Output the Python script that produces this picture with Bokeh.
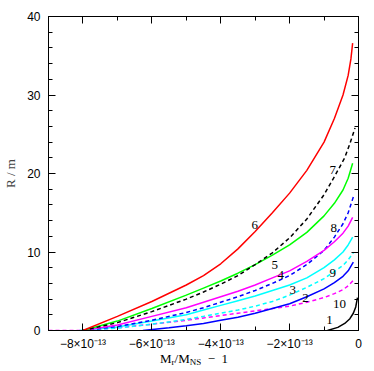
from bokeh.plotting import figure
from bokeh.models import Range1d, LinearAxis, Label, FixedTicker, Div
from bokeh.layouts import column
from bokeh.embed import file_html
from bokeh.resources import INLINE

# x values are in units of 1e-13 (M_r/M_NS - 1)
x_major = [-8, -6, -4, -2, 0]
x_minor = [-9, -7, -5, -3, -1]
x_tick_labels = ["−8×10⁻¹³", "−6×10⁻¹³", "−4×10⁻¹³", "−2×10⁻¹³", "0"]
y_major = [0, 10, 20, 30, 40]
y_minor = [2, 4, 6, 8, 12, 14, 16, 18, 22, 24, 26, 28, 32, 34, 36, 38]

# curve 6, red solid
red_x = [-8.0, -7.0, -6.0, -5.0, -4.5, -4.0, -3.5, -3.0, -2.5, -2.0, -1.5, -1.0, -0.7, -0.45, -0.3, -0.22, -0.17]
red_y = [0.0, 1.8, 3.7, 5.8, 7.0, 8.5, 10.4, 12.6, 15.0, 17.5, 20.4, 24.0, 27.0, 30.0, 32.5, 34.6, 36.6]
# curve 7, black dashed
kd_x = [-8.0, -7.0, -6.0, -5.0, -4.5, -4.0, -3.5, -3.0, -2.5, -2.0, -1.5, -1.0, -0.7, -0.4, -0.25, -0.1]
kd_y = [0.0, 1.0, 2.4, 4.0, 4.9, 5.9, 7.0, 8.4, 9.9, 11.8, 14.2, 17.3, 19.6, 22.0, 23.8, 25.8]
# curve 5, green solid
gr_x = [-8.0, -7.0, -6.0, -5.0, -4.5, -4.0, -3.5, -3.0, -2.5, -2.0, -1.5, -1.0, -0.7, -0.45, -0.3, -0.17]
gr_y = [0.0, 1.2, 2.8, 4.5, 5.4, 6.3, 7.3, 8.4, 9.6, 10.9, 12.5, 14.6, 16.2, 17.9, 19.4, 21.3]
# curve 8, blue dashed
bd_x = [-8.0, -7.0, -6.0, -5.0, -4.5, -4.0, -3.5, -3.0, -2.5, -2.0, -1.5, -1.0, -0.7, -0.45, -0.3, -0.15]
bd_y = [0.0, 0.5, 1.3, 2.3, 2.9, 3.6, 4.3, 5.1, 6.0, 7.0, 8.4, 10.2, 11.9, 13.6, 15.0, 17.0]
# curve 4, magenta solid
mg_x = [-8.0, -7.0, -6.0, -5.0, -4.5, -4.0, -3.5, -3.0, -2.5, -2.0, -1.5, -1.0, -0.7, -0.45, -0.3, -0.17]
mg_y = [0.0, 0.7, 1.8, 2.9, 3.6, 4.3, 5.0, 5.8, 6.7, 7.6, 8.8, 10.2, 11.3, 12.4, 13.3, 14.4]
# curve 3, cyan solid
cy_x = [-8.1, -7.0, -6.0, -5.0, -4.5, -4.0, -3.5, -3.0, -2.5, -2.0, -1.5, -1.0, -0.7, -0.45, -0.3, -0.17]
cy_y = [0.0, 0.45, 1.2, 2.0, 2.6, 3.2, 3.8, 4.4, 5.1, 5.8, 6.7, 8.0, 9.0, 10.0, 10.9, 11.9]
# curve 9, cyan dashed
cd_x = [-8.0, -7.0, -6.0, -5.0, -4.5, -4.0, -3.5, -3.0, -2.5, -2.0, -1.5, -1.0, -0.7, -0.45, -0.3, -0.15]
cd_y = [0.0, 0.3, 0.8, 1.4, 1.8, 2.2, 2.6, 3.1, 3.7, 4.5, 5.5, 6.6, 7.5, 8.3, 9.0, 9.9]
# curve 2, blue solid
bl_x = [-6.26, -5.5, -5.0, -4.5, -4.0, -3.5, -3.0, -2.5, -2.0, -1.5, -1.0, -0.7, -0.45, -0.3, -0.15]
bl_y = [0.0, 0.35, 0.6, 0.9, 1.3, 1.7, 2.2, 2.8, 3.4, 4.3, 5.3, 6.1, 6.9, 7.6, 8.7]
# curve 10, magenta dashed
md_x = [-9.0, -8.1, -7.0, -6.0, -5.0, -4.5, -4.0, -3.5, -3.0, -2.5, -2.0, -1.5, -1.0, -0.7, -0.45, -0.3, -0.15]
md_y = [0.0, 0.0, 0.35, 0.8, 1.3, 1.6, 1.9, 2.2, 2.5, 2.8, 3.1, 3.6, 4.2, 4.7, 5.2, 5.7, 6.4]
# curve 1, black solid
ks_x = [-0.9, -0.6, -0.4, -0.25, -0.15, -0.08, -0.03]
ks_y = [0.0, 0.4, 0.9, 1.5, 2.2, 3.0, 4.2]

label_text = ["6", "7", "8", "5", "4", "3", "2", "9", "10", "1"]
label_x = [-3.01, -0.75, -0.72, -2.43, -2.26, -1.91, -1.54, -0.75, -0.55, -0.84]
label_y = [13.4, 20.5, 13.1, 8.3, 7.1, 5.1, 4.1, 7.3, 3.4, 1.3]

p = figure(output_backend="svg", toolbar_location=None,
           frame_width=310, frame_height=314,
           min_border_left=47, min_border_top=16, min_border_right=8, min_border_bottom=22,
           x_range=Range1d(-9, 0), y_range=Range1d(0, 40),
           x_axis_type=None, y_axis_type=None)
p.background_fill_color = "white"
p.border_fill_color = "white"
p.outline_line_color = "black"
p.outline_line_width = 1
p.xgrid.visible = False
p.ygrid.visible = False

def make_axis(kind, show_labels):
    ax = LinearAxis()
    if kind == "x":
        ax.ticker = FixedTicker(ticks=x_major, minor_ticks=x_minor)
        ax.major_label_overrides = {t: s for t, s in zip(x_major, x_tick_labels)}
    else:
        ax.ticker = FixedTicker(ticks=y_major, minor_ticks=y_minor)
    ax.major_tick_in = 7
    ax.major_tick_out = 0
    ax.minor_tick_in = 4
    ax.minor_tick_out = 0
    ax.axis_line_color = "black"
    ax.major_tick_line_color = "black"
    ax.minor_tick_line_color = "black"
    ax.major_label_text_font = "Liberation Sans"
    ax.major_label_text_font_size = "12px"
    ax.major_label_text_color = "black" if show_labels else None
    ax.major_label_standoff = 8 if kind == "y" else 6
    return ax

p.add_layout(make_axis("x", True), "below")
p.add_layout(make_axis("x", False), "above")
yax = make_axis("y", True)
yax.axis_label = "R / m"
yax.axis_label_text_font = "Liberation Serif"
yax.axis_label_text_font_size = "13px"
yax.axis_label_text_font_style = "normal"
yax.axis_label_standoff = 6
p.add_layout(yax, "left")
p.add_layout(make_axis("y", False), "right")

curves = [
    (md_x, md_y, "#ff00ff", "4 3"),
    (bl_x, bl_y, "#0000ff", None),
    (cd_x, cd_y, "#00ffff", "4 3"),
    (cy_x, cy_y, "#00ffff", None),
    (bd_x, bd_y, "#0000ff", "4 3"),
    (mg_x, mg_y, "#ff00ff", None),
    (gr_x, gr_y, "#00ff00", None),
    (kd_x, kd_y, "#000000", "4 3"),
    (red_x, red_y, "#ff0000", None),
    (ks_x, ks_y, "#000000", None),
]
for xs, ys, col, dash in curves:
    kw = dict(line_color=col, line_width=1.5)
    if dash:
        kw["line_dash"] = dash
    p.line(xs, ys, **kw)

for t, lx, ly in zip(label_text, label_x, label_y):
    p.add_layout(Label(x=lx, y=ly, text=t, text_font="Liberation Serif",
                       text_font_size="13px", text_align="center",
                       text_baseline="middle", text_color="black"))

sub = "<span style='font-size:9px;position:relative;top:2px'>{}</span>"
xlabel = Div(text="M" + sub.format("r") + "/M" + sub.format("NS") +
                  "&nbsp;&nbsp;−&nbsp;&nbsp;1",
             width=358, height=17,
             styles={"font-family": "Liberation Serif", "font-size": "13px",
                     "padding-left": "155px", "line-height": "13px", "color": "black",
                     "margin-top": "-1px"})

layout = column(p, xlabel, spacing=0)
open("out.html", "w").write(file_html(layout, INLINE))
